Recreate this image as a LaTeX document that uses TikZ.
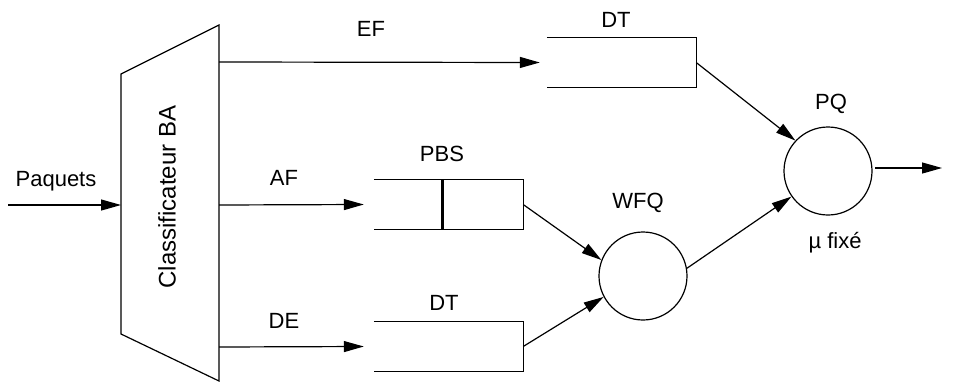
\documentclass[tikz,border=0pt]{standalone}
\usepackage{fontspec}
\setmainfont{Liberation Sans}
\usetikzlibrary{arrows.meta}
\tikzset{
  ln/.style={line width=1.2pt},
  arr/.style={ln, -{Triangle[length=20pt,width=11pt]}},
  lbl/.style={font=\fontsize{22}{26}\selectfont, inner sep=0pt},
  queuebox/.style={minimum width=149pt, minimum height=49pt, inner sep=0pt},
  srv/.style={circle, draw, ln, minimum size=88pt, inner sep=0pt},
}
\begin{document}
\begin{tikzpicture}[x=1pt,y=-1pt]
\useasboundingbox (0,0) rectangle (955,383);
% classifier trapezoid
\coordinate (tl) at (121,74);
\coordinate (bl) at (121,334);
\coordinate (tr) at (219,25);
\coordinate (br) at (219,381);
\draw[ln] (tl) -- (tr) -- (br) -- (bl) -- cycle;
\node[lbl, font=\fontsize{24}{28}\selectfont, rotate=90] (cls) at (167,197) {Classificateur BA};
\coordinate (inpt) at (121,205);
\coordinate (src) at (8,205);
\coordinate (ef) at (219,62);
\coordinate (af) at (219,205);
\coordinate (de) at (219,347);
% queues
\node[queuebox] (q1) at (621.5,62.5) {};
\node[queuebox] (q2) at (448.5,204.5) {};
\node[queuebox] (q3) at (448.5,346.5) {};
\foreach \q in {q1,q2,q3}
  \draw[ln] (\q.north west) -- (\q.north east) -- (\q.south east) -- (\q.south west);
\coordinate (bart) at (442,180);
\coordinate (barb) at (442,229);
\draw[line width=3pt] (bart) -- (barb);
% servers
\node[srv] (wfq) at (643,276) {};
\node[srv] (pq) at (828,171) {};
\coordinate (outp) at (942,168);
\coordinate (pqo) at (875,168);
% labels
\node[lbl] (lpaq) at (56,181) {Paquets};
\node[lbl] (lef) at (371,29) {EF};
\node[lbl] (laf) at (284,178) {AF};
\node[lbl] (lde) at (284,321) {DE};
\node[lbl] (ldt1) at (616,20) {DT};
\node[lbl] (lpbs) at (442,154) {PBS};
\node[lbl] (ldt2) at (444,303) {DT};
\node[lbl] (lwfq) at (638,203) {WFQ};
\node[lbl] (lpq) at (831,104) {PQ};
\node[lbl] (lmu) at (835,243) {µ fixé};
% connectors
\draw[arr] (src) -- (inpt);
\draw[arr] (ef) -- ([xshift=-7]q1.west);
\draw[arr] (af) -- ([xshift=-10]q2.west);
\draw[arr] (de) -- ([xshift=-10]q3.west);
\draw[arr] (q1.east) -- (pq.137);
\draw[arr] (q2.east) -- (wfq.159);
\draw[arr] (q3.east) -- (wfq.208);
\draw[arr] (wfq.10) -- (pq.215);
\draw[arr] (pqo) -- (outp);
\end{tikzpicture}
\end{document}
